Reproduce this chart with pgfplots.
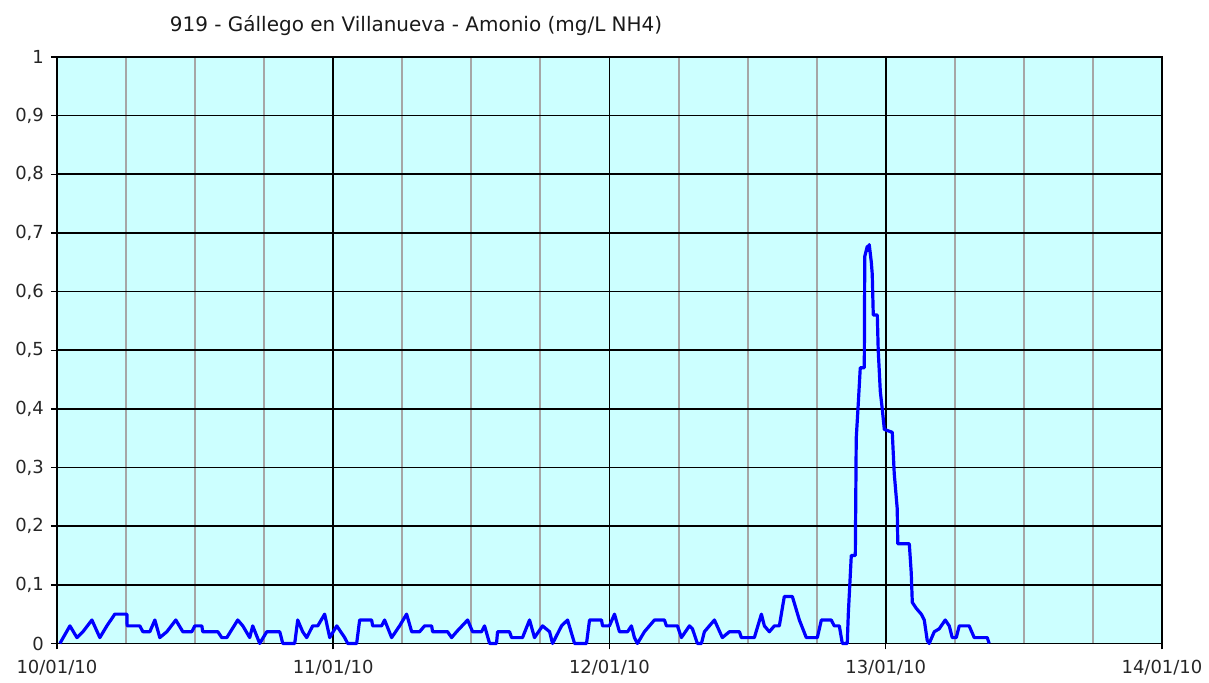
\documentclass[border=0pt]{standalone}
\usepackage{fontspec}
\setmainfont{DejaVu Sans}
\usepackage{pgfplots}
\pgfplotsset{compat=1.18}
\definecolor{bgcyan}{HTML}{CCFFFF}
\definecolor{gridgray}{HTML}{A6A6A6}
\begin{document}
\begin{tikzpicture}
\begin{axis}[
  scale only axis,
  width=553pt, height=293.5pt,
  xmin=0, xmax=96, ymin=0, ymax=1,
  axis background/.style={fill=bgcyan},
  xtick={0,24,48,72,96},
  xticklabels={10/01/10,11/01/10,12/01/10,13/01/10,14/01/10},
  minor xtick={6,12,18,30,36,42,54,60,66,78,84,90},
  ytick={0,0.1,0.2,0.3,0.4,0.5,0.6,0.7,0.8,0.9,1},
  yticklabels={0,{0,1},{0,2},{0,3},{0,4},{0,5},{0,6},{0,7},{0,8},{0,9},1},
  xmajorgrids, ymajorgrids, xminorgrids,
  major grid style={black, line width=0.8pt},
  minor grid style={color=gridgray, line width=1pt},
  axis line style={black, line width=0.8pt},
  tick style={black, line width=0.7pt},
  major tick length=3pt, minor tick length=0pt,
  tick align=outside,
  xtick pos=bottom, ytick pos=left,
  tick label style={font=\fontsize{9}{10}\selectfont, text=black!85},
  xticklabel style={yshift=-2pt},
  clip=false,
]
\addplot[blue, line width=1.6pt, line join=round] coordinates {
(0.26,0) (1.13,0.03) (1.74,0.01) (2.26,0.02) (3.04,0.04) (3.73,0.01) (4.34,0.03)
(5.03,0.05) (6.08,0.05) (6.1,0.03) (7.2,0.03) (7.47,0.02) (8.07,0.02) (8.51,0.04)
(8.94,0.01) (9.55,0.02) (10.33,0.04) (10.94,0.02) (11.72,0.02) (11.98,0.03) (12.59,0.03)
(12.67,0.02) (13.98,0.02) (14.32,0.01) (14.76,0.01) (15.71,0.04) (16.15,0.03) (16.75,0.01)
(17.01,0.03) (17.62,0) (18.23,0.02) (19.36,0.02) (19.62,0) (20.66,0) (20.92,0.04)
(21.35,0.02) (21.70,0.01) (22.22,0.03) (22.66,0.03) (23.26,0.05) (23.70,0.01) (24.31,0.03)
(25.0,0.01) (25.26,0) (26.04,0) (26.30,0.04) (27.34,0.04) (27.43,0.03) (28.21,0.03)
(28.47,0.04) (29.08,0.01) (29.77,0.03) (30.38,0.05) (30.82,0.02) (31.51,0.02) (31.94,0.03)
(32.55,0.03) (32.64,0.02) (33.94,0.02) (34.29,0.01) (34.72,0.02) (35.68,0.04) (36.11,0.02)
(36.89,0.02) (37.15,0.03) (37.59,0) (38.19,0) (38.28,0.02) (39.32,0.02) (39.50,0.01)
(40.45,0.01) (41.06,0.04) (41.49,0.01) (42.19,0.03) (42.80,0.02) (43.06,0) (43.84,0.03)
(44.36,0.04) (44.97,0) (46.01,0) (46.27,0.04) (47.31,0.04) (47.40,0.03) (48.0,0.03)
(48.44,0.05) (48.87,0.02) (49.57,0.02) (49.91,0.03) (50.17,0.01) (50.43,0) (51.04,0.02)
(51.91,0.04) (52.78,0.04) (52.95,0.03) (53.91,0.03) (54.25,0.01) (54.95,0.03) (55.21,0.025)
(55.64,0) (55.99,0) (56.25,0.02) (57.12,0.04) (57.81,0.01) (58.42,0.02) (59.29,0.02)
(59.46,0.01) (60.59,0.01) (61.20,0.05) (61.46,0.03) (61.89,0.02) (62.33,0.03) (62.76,0.03)
(63.19,0.08) (63.89,0.08) (64.5,0.04) (65.10,0.01) (66.06,0.01) (66.41,0.04) (67.27,0.04)
(67.53,0.03) (67.97,0.03) (68.23,0) (68.66,0) (68.75,0.05) (69.01,0.15) (69.36,0.15)
(69.44,0.35) (69.62,0.41) (69.79,0.47) (70.14,0.47) (70.18,0.66) (70.4,0.677) (70.49,0.67)
(70.57,0.68) (70.75,0.65) (70.83,0.63) (70.92,0.56) (71.27,0.56) (71.35,0.50) (71.53,0.43)
(71.70,0.40) (71.88,0.365) (72.57,0.36) (72.74,0.29) (73.0,0.23) (73.05,0.17) (74.05,0.17)
(74.22,0.12) (74.31,0.07) (74.65,0.06) (75.09,0.05) (75.35,0.04) (75.61,0.005) (75.78,0)
(76.22,0.02) (76.65,0.025) (77.17,0.04) (77.52,0.03) (77.78,0.01) (78.13,0.01) (78.39,0.03)
(79.25,0.03) (79.69,0.01) (80.82,0.01) (80.99,0)
};
\node[font=\fontsize{10}{12}\selectfont, text=black!90] at (rel axis cs:0.325,1) [yshift=15.5pt] {919 - Gállego en Villanueva - Amonio (mg/L NH4)};
\path (rel axis cs:-0.0515,-0.0596) rectangle (rel axis cs:1.0416,1.0971);
\end{axis}
\end{tikzpicture}
\end{document}
